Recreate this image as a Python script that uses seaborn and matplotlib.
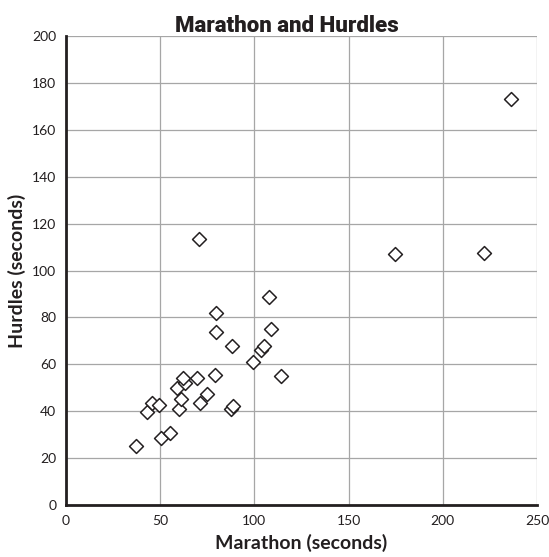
import seaborn as sns
import matplotlib.pyplot as plt
import pandas as pd

# values
marathon = [37.3, 42.8, 45.6, 49.5, 50.6, 55.2, 60.2, 60.9, 59.1, 63.3,
            62.3, 69.4, 71.1, 74.7, 79.3, 79.6, 79.6, 70.7, 87.7, 88.8,
            88.1, 99.1, 103.7, 105.1, 108.6, 107.9, 114.3, 174.6, 221.9, 236.0]
hurdles = [25.3, 39.7, 43.4, 42.8, 28.6, 30.6, 41.1, 45.2, 49.8, 51.9,
           54.3, 54.0, 43.4, 47.2, 55.3, 73.9, 82.0, 113.4, 40.8, 42.4,
           67.9, 61.0, 66.1, 67.9, 74.9, 88.8, 55.0, 107.0, 107.5, 173.1]
x_ticks = [0, 50, 100, 150, 200, 250]
y_ticks = list(range(0, 201, 20))

df = pd.DataFrame({'Marathon': marathon, 'Hurdles': hurdles})

sns.set_theme(style="white")
plt.rcParams['font.family'] = ['Lato', 'DejaVu Sans']

fig = plt.figure(figsize=(5.49, 5.57), dpi=100)
ax = fig.add_axes([66 / 549, 52 / 557, 471 / 549, 469 / 557])

sns.scatterplot(data=df, x='Marathon', y='Hurdles', ax=ax, marker='D',
                s=50, facecolor='white', edgecolor='#231f20', linewidth=1.1,
                zorder=3)

ax.set_xlim(0, 250)
ax.set_ylim(0, 200)
ax.set_xticks(x_ticks)
ax.set_yticks(y_ticks)
ax.grid(True, color='#a6a6a6', linewidth=0.9)
ax.set_axisbelow(True)

for side in ['top', 'right']:
    ax.spines[side].set_visible(False)
for side in ['left', 'bottom']:
    ax.spines[side].set_color('#231f20')
    ax.spines[side].set_linewidth(2)
    ax.spines[side].set_zorder(4)

ax.tick_params(axis='both', which='major', direction='out', length=5,
               width=0.9, color='#231f20', labelsize=10,
               labelcolor='#231f20', pad=2)

ax.set_xlabel('Marathon (seconds)', fontsize=14, fontweight='bold',
              color='#231f20', labelpad=5)
ax.set_ylabel('Hurdles (seconds)', fontsize=14, fontweight='bold',
              color='#231f20', labelpad=4)
ax.set_title('Marathon and Hurdles', fontsize=16, fontweight=900,
             family=['Roboto', 'Lato', 'DejaVu Sans'],
             color='#231f20', pad=3, x=0.468)

fig.savefig('out.png', dpi=100)
